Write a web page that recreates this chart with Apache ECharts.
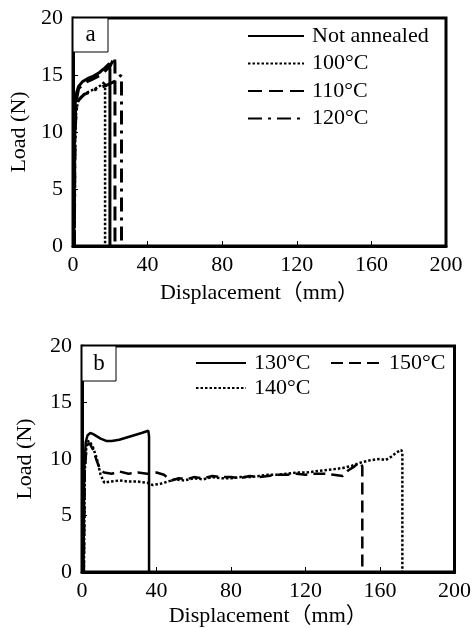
<!DOCTYPE html>
<html>
<head>
<meta charset="utf-8">
<script src="https://cdn.jsdelivr.net/npm/echarts@6/dist/echarts.min.js"></script>
<style>
html,body{margin:0;padding:0;background:#fff;}
#c{width:474px;height:628px;}
</style>
</head>
<body>
<div id="c"></div>
<script>
// ---------- Data ----------
var xTicks = [0, 40, 80, 120, 160, 200];
var yTicks = [0, 5, 10, 15, 20];

// Panel a
var naDisp   = [0.5, 0.8, 1.2, 2, 3, 5, 8, 11, 14, 17, 19.5, 19.8, 19.8];
var naLoad   = [0, 10, 12.5, 13.5, 14.0, 14.4, 14.7, 14.9, 15.2, 15.6, 16.0, 15.5, 0];
var a100Disp = [0.8, 1.2, 1.8, 3, 5, 8, 12, 15, 17, 17.2, 17.2];
var a100Load = [0, 10, 12, 12.8, 13.2, 13.5, 13.8, 14.1, 14.4, 14.0, 0];
var a110Disp = [0.6, 1, 1.5, 3, 6, 10, 15, 20, 22.3, 22.5, 22.5];
var a110Load = [0, 10, 12.5, 13.8, 14.3, 14.6, 15.0, 15.8, 16.6, 16.0, 0];
var a120Disp = [0.7, 1.1, 1.8, 3, 6, 9, 13, 18, 23, 25.8, 26, 26];
var a120Load = [0, 10, 12, 12.8, 13.3, 13.5, 13.8, 14.1, 14.5, 15.0, 14.5, 0];

// Panel b
var b130Disp = [0.8, 1.2, 2, 3, 4.5, 6, 8, 10, 13, 16, 20, 24, 28, 32, 35.6, 36, 36];
var b130Load = [0, 9, 11.5, 12.1, 12.3, 12.2, 12.0, 11.8, 11.6, 11.6, 11.7, 11.9, 12.1, 12.3, 12.5, 12.0, 0];
var b150Disp = [1, 1.5, 2.5, 4, 6, 8, 10, 12, 16, 20, 25, 30, 35, 40, 44, 48, 52, 56, 60, 65, 70, 75, 80, 85, 90, 95, 100, 105, 110, 115, 120, 125, 130, 135, 140, 143, 146, 148, 150, 150.5, 150.5];
var b150Load = [0, 9, 11.2, 11.4, 10.8, 9.8, 9.0, 8.8, 8.7, 8.9, 8.7, 8.8, 8.7, 8.8, 8.6, 8.1, 8.3, 8.2, 8.4, 8.3, 8.5, 8.4, 8.4, 8.3, 8.5, 8.4, 8.5, 8.6, 8.6, 8.7, 8.6, 8.7, 8.7, 8.6, 8.5, 9.0, 9.3, 9.6, 9.6, 9.3, 0];
var b140Disp = [1, 1.5, 2.5, 4, 6, 8, 10, 12, 15, 20, 25, 30, 35, 38, 42, 46, 50, 55, 60, 65, 70, 75, 80, 85, 90, 95, 100, 105, 110, 115, 120, 125, 130, 135, 140, 145, 150, 155, 160, 163, 166, 169, 171.5, 172, 172];
var b140Load = [0, 9, 11.5, 11.6, 11.0, 10.0, 8.6, 7.9, 8.0, 8.1, 8.0, 8.0, 7.9, 7.7, 7.8, 8.0, 8.2, 8.1, 8.3, 8.2, 8.4, 8.3, 8.3, 8.4, 8.4, 8.5, 8.6, 8.6, 8.7, 8.8, 8.8, 8.9, 9.0, 9.1, 9.2, 9.4, 9.7, 9.9, 10.0, 9.9, 10.2, 10.6, 10.8, 10.5, 0];

// ---------- Helpers ----------
function pairs(xs, ys){ return xs.map(function(x,i){ return [x, ys[i]]; }); }
var FONT = '"Liberation Serif", "Noto Sans CJK SC", serif';
var FS = 22;
var DASH = [14, 7];
var DOT = [2.5, 2];
var DASHDOT = [14, 6, 3, 6];

function xAxis(gi, gap){
  return {
    type:'value', gridIndex:gi, min:0, max:200, interval:40,
    name:'Displacement（mm）', nameLocation:'middle', nameGap:gap,
    nameTextStyle:{fontFamily:FONT, fontSize:FS, color:'#000'},
    axisLine:{show:true, onZero:false, lineStyle:{color:'#000', width:3}},
    axisTick:{show:true, inside:true, length:5, lineStyle:{color:'#000', width:1}},
    axisLabel:{fontFamily:FONT, fontSize:FS, color:'#000', margin:8,
      formatter:function(v){ return xTicks.indexOf(v)>=0 ? String(v) : ''; }},
    splitLine:{show:false}
  };
}
function yAxis(gi, gap){
  return {
    type:'value', gridIndex:gi, min:0, max:20, interval:5,
    name:'Load (N)', nameLocation:'middle', nameGap:gap, nameRotate:90,
    nameTextStyle:{fontFamily:FONT, fontSize:FS, color:'#000'},
    axisLine:{show:true, onZero:false, lineStyle:{color:'#000', width:3}},
    axisTick:{show:true, inside:true, length:5, lineStyle:{color:'#000', width:1}},
    axisLabel:{fontFamily:FONT, fontSize:FS, color:'#000', margin:10,
      formatter:function(v){ return yTicks.indexOf(v)>=0 ? String(v) : ''; }},
    splitLine:{show:false}
  };
}
function line(name, gi, xs, ys, type, w){
  return {
    name:name, type:'line', xAxisIndex:gi, yAxisIndex:gi,
    data:pairs(xs, ys), symbol:'none', showSymbol:false, smooth:false,
    legendIcon:'path://M0,0',
    lineStyle:{color:'#000', width:w||2.5, type:type},
    itemStyle:{color:'#000'}, z:3
  };
}
function legend(names, left, top, itemW, gap){
  return {
    data:names, orient:'vertical', left:left, top:top, padding:0,
    itemWidth:itemW, itemHeight:14, itemGap:gap, selectedMode:false,
    itemStyle:{opacity:0},
    textStyle:{fontFamily:FONT, fontSize:FS, color:'#000', lineHeight:22, padding:[0,0,0,3]}
  };
}

var chart = echarts.init(document.getElementById('c'), null, {renderer:'canvas'});
chart.setOption({
  animation:false,
  backgroundColor:'#fff',
  grid:[
    {left:73, top:18, width:373, height:228, show:true, borderColor:'#000', borderWidth:3, backgroundColor:'transparent'},
    {left:82, top:346, width:373, height:229, show:true, borderColor:'#000', borderWidth:3, backgroundColor:'transparent'}
  ],
  xAxis:[xAxis(0, 36), xAxis(1, 33)],
  yAxis:[yAxis(0, 39), yAxis(1, 46)],
  legend:[
    legend(['Not annealed','100°C','110°C','120°C'], 247, 25, 56, 5.5),
    legend(['130°C','140°C'], 195, 352, 50, 3),
    legend(['150°C'], 330, 352, 50, 3)
  ],
  graphic:[
    {type:'rect', shape:{x:73, y:18, width:35, height:34}, style:{fill:'#fff', stroke:'#000', lineWidth:1}, z:10},
    {type:'text', x:90.5, y:35, style:{text:'a', font:'23px "Liberation Serif", serif', fill:'#000', textAlign:'center', textVerticalAlign:'middle'}, z:11},
    {type:'rect', shape:{x:82, y:346, width:34, height:35}, style:{fill:'#fff', stroke:'#000', lineWidth:1}, z:10},
    {type:'text', x:99, y:363.5, style:{text:'b', font:'23px "Liberation Serif", serif', fill:'#000', textAlign:'center', textVerticalAlign:'middle'}, z:11}
  ],
  series:[
    line('Not annealed', 0, naDisp, naLoad, 'solid', 3),
    line('100°C', 0, a100Disp, a100Load, DOT, 2.5),
    line('110°C', 0, a110Disp, a110Load, DASH, 3),
    line('120°C', 0, a120Disp, a120Load, DASHDOT, 3),
    line('130°C', 1, b130Disp, b130Load, 'solid', 2.5),
    line('140°C', 1, b140Disp, b140Load, DOT, 2.5),
    line('150°C', 1, b150Disp, b150Load, [12, 6], 2.5)
  ]
});
</script>
</body>
</html>
